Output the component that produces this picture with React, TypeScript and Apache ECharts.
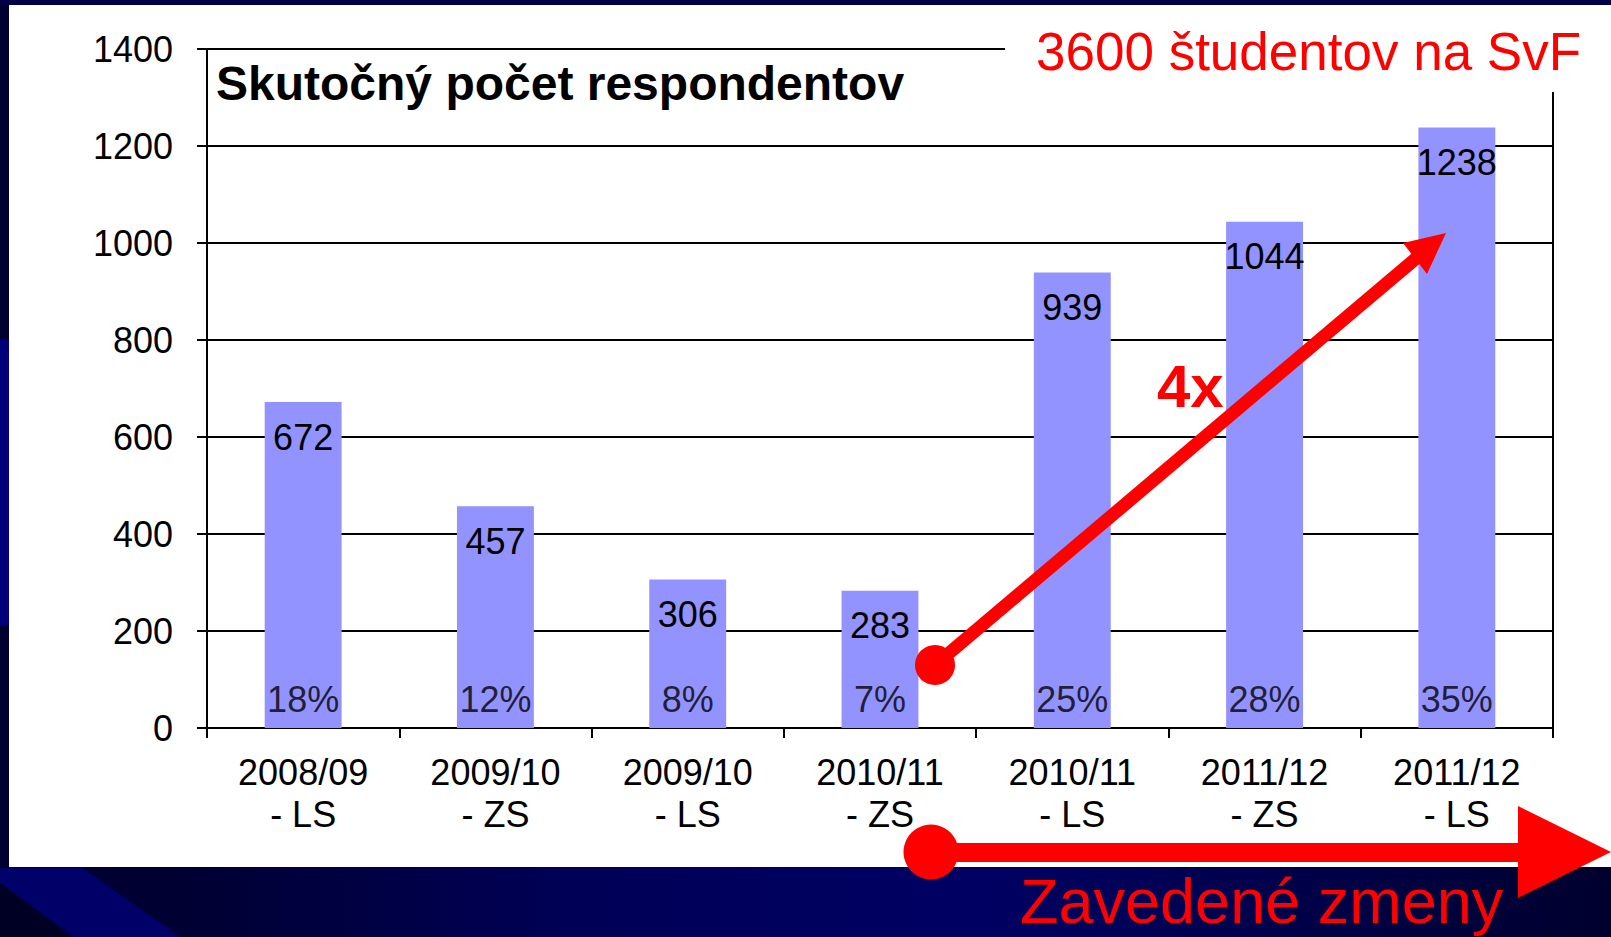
import React, { useEffect, useRef } from 'react';
import * as echarts from 'echarts';

// ---- data ----
const categories = [
  '2008/09\n- LS',
  '2009/10\n- ZS',
  '2009/10\n- LS',
  '2010/11\n- ZS',
  '2010/11\n- LS',
  '2011/12\n- ZS',
  '2011/12\n- LS',
];
const respondents = [672, 457, 306, 283, 939, 1044, 1238];
const responseRates = ['18%', '12%', '8%', '7%', '25%', '28%', '35%'];
const yMin = 0;
const yMax = 1400;
const yStep = 200;

const chartTitle = 'Skutočný počet respondentov';
const studentNote = '3600 študentov na SvF';
const changesNote = 'Zavedené zmeny';
const growthNote = '4x';

const FONT = '"Liberation Sans", Arial, Helvetica, sans-serif';
const RED = '#ff0000';

export default function App() {
  const ref = useRef<HTMLDivElement>(null);

  useEffect(() => {
    if (!ref.current) return;
    const chart = echarts.init(ref.current, undefined, { renderer: 'svg' });

    const option: any = {
      animation: false,
      backgroundColor: {
        type: 'linear',
        x: 0,
        y: 0,
        x2: 1,
        y2: 0,
        colorStops: [
          { offset: 0, color: '#000030' },
          { offset: 0.12, color: '#000034' },
          { offset: 0.35, color: '#000056' },
          { offset: 0.6, color: '#000064' },
          { offset: 0.8, color: '#00004a' },
          { offset: 1, color: '#00002e' },
        ],
      },
      textStyle: { fontFamily: FONT },
      grid: {
        left: 207,
        right: 58,
        top: 49,
        bottom: 209,
        show: true,
        borderColor: '#000',
        borderWidth: 2,
        backgroundColor: 'transparent',
      },
      xAxis: {
        type: 'category',
        data: categories,
        axisLine: { lineStyle: { color: '#000', width: 2 } },
        axisTick: { show: true, length: 10, lineStyle: { color: '#000', width: 2 } },
        axisLabel: {
          interval: 0,
          color: '#000',
          fontSize: 36,
          lineHeight: 42,
          fontFamily: FONT,
          margin: 23,
        },
      },
      yAxis: {
        type: 'value',
        min: yMin,
        max: yMax,
        interval: yStep,
        axisLine: { show: true, lineStyle: { color: '#000', width: 2 } },
        axisTick: { show: true, length: 10, lineStyle: { color: '#000', width: 2 } },
        splitLine: { show: true, lineStyle: { color: '#000', width: 2 } },
        axisLabel: {
          color: '#000',
          fontSize: 36,
          fontFamily: FONT,
          margin: 34,
          formatter: (v: number) => String(v),
        },
      },
      series: [
        {
          type: 'bar',
          data: respondents,
          barWidth: '40%',
          itemStyle: { color: '#9393ff' },
          label: {
            show: true,
            position: 'insideTop',
            distance: 17,
            color: '#000',
            fontSize: 36,
            lineHeight: 36,
            fontFamily: FONT,
          },
        },
        {
          type: 'scatter',
          data: categories.map((c) => [c, 0]),
          symbolSize: 0,
          z: 5,
          label: {
            show: true,
            position: 'top',
            distance: 11,
            color: '#000',
            fontSize: 36,
            lineHeight: 36,
            fontFamily: FONT,
            formatter: (p: any) => responseRates[p.dataIndex],
          },
        },
      ],
      graphic: [
        // background decoration
        {
          type: 'polygon',
          z: -100,
          shape: { points: [[0, 868], [83, 868], [180, 937], [73, 937], [0, 883]] },
          style: { fill: '#000068' },
        },
        {
          type: 'polygon',
          z: -100,
          shape: { points: [[0, 883], [73, 937], [0, 937]] },
          style: { fill: '#000024' },
        },
        {
          type: 'rect',
          z: -100,
          shape: { x: 0, y: 340, width: 9, height: 285 },
          style: { fill: '#00007a' },
        },
        {
          type: 'rect',
          z: -100,
          shape: { x: 0, y: 0, width: 1611, height: 5 },
          style: { fill: '#000046' },
        },
        // white slide panel
        {
          type: 'rect',
          z: -90,
          shape: { x: 9, y: 5, width: 1602, height: 862 },
          style: { fill: '#ffffff' },
        },
        // white box behind the note
        {
          type: 'rect',
          z: 50,
          shape: { x: 1005, y: 5, width: 606, height: 87 },
          style: { fill: '#ffffff' },
        },
        {
          type: 'text',
          z: 60,
          x: 1036,
          y: 51,
          style: {
            text: studentNote,
            fill: RED,
            fontSize: 53,
            fontFamily: FONT,
            align: 'left',
            verticalAlign: 'middle',
          },
        },
        {
          type: 'text',
          z: 60,
          x: 216,
          y: 83,
          style: {
            text: chartTitle,
            fill: '#000',
            fontSize: 48,
            fontWeight: 'bold',
            fontFamily: FONT,
            align: 'left',
            verticalAlign: 'middle',
          },
        },
        // diagonal arrow
        {
          type: 'line',
          z: 70,
          shape: { x1: 935, y1: 665, x2: 1420, y2: 255 },
          style: { stroke: RED, lineWidth: 13 },
        },
        {
          type: 'circle',
          z: 70,
          shape: { cx: 935, cy: 665, r: 20 },
          style: { fill: RED },
        },
        {
          type: 'polygon',
          z: 70,
          shape: { points: [[1446, 233], [1403, 243], [1427, 274]] },
          style: { fill: RED },
        },
        {
          type: 'text',
          z: 70,
          x: 1157,
          y: 386,
          style: {
            text: growthNote,
            fill: RED,
            fontSize: 60,
            fontWeight: 'bold',
            fontFamily: FONT,
            align: 'left',
            verticalAlign: 'middle',
          },
        },
        // horizontal arrow
        {
          type: 'rect',
          z: 70,
          shape: { x: 930, y: 843, width: 592, height: 19 },
          style: { fill: RED },
        },
        {
          type: 'circle',
          z: 70,
          shape: { cx: 931, cy: 852, r: 27.5 },
          style: { fill: RED },
        },
        {
          type: 'polygon',
          z: 70,
          shape: { points: [[1518, 806], [1611, 852], [1518, 898]] },
          style: { fill: RED },
        },
        {
          type: 'text',
          z: 70,
          x: 1020,
          y: 901,
          style: {
            text: changesNote,
            fill: RED,
            fontSize: 63,
            fontFamily: FONT,
            align: 'left',
            verticalAlign: 'middle',
          },
        },
      ],
    };

    chart.setOption(option);
    return () => chart.dispose();
  }, []);

  return (
    <div
      ref={ref}
      style={{ position: 'fixed', left: 0, top: 0, width: 1611, height: 937 }}
    />
  );
}
